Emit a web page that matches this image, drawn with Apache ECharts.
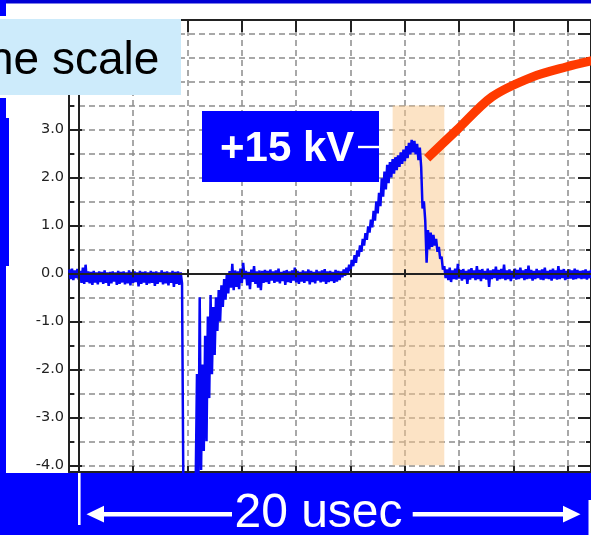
<!DOCTYPE html>
<html>
<head>
<meta charset="utf-8">
<script src="https://cdn.jsdelivr.net/npm/echarts@6/dist/echarts.min.js"></script>
<style>
html,body{margin:0;padding:0;background:#fff;}
#chart{width:591px;height:535px;}
</style>
</head>
<body>
<div id="chart"></div>
<script>
// ---------------- data ----------------
// oscilloscope samples: start time and step in usec, voltage in scope units
const sampleStart = -0.35;
const sampleStep = 0.05;
const voltage = [
  // t -0.35 .. 3.80  (baseline before the pulse)
  0.08,-0.12,0.10,-0.14,0.06,-0.10,0.09,-0.13,0.05,-0.20,
  0.12,-0.22,0.18,-0.18,0.04,-0.21,0.03,-0.24,0.05,-0.19,
  0.02,-0.23,0.04,-0.18,0.03,-0.22,0.06,-0.20,0.02,-0.26,
  0.03,-0.21,0.04,-0.17,0.02,-0.24,0.05,-0.22,0.03,-0.19,
  0.04,-0.23,0.02,-0.21,0.06,-0.25,0.03,-0.20,0.04,-0.18,
  0.02,-0.27,0.05,-0.22,0.03,-0.19,0.04,-0.24,0.02,-0.21,
  0.05,-0.20,0.03,-0.26,0.04,-0.22,0.02,-0.18,0.06,-0.23,
  0.03,-0.21,0.04,-0.25,0.02,-0.20,0.05,-0.28,0.03,-0.22,
  0.04,-0.24,0.02,-0.21,
  // t 3.85 .. 4.25  (off-scale negative)
  -4.6,-4.6,-4.6,-4.6,-4.6,-4.6,-4.6,-4.6,-4.6,
  // t 4.30 .. 6.80  (recovery)
  -4.5,-2.1,-4.5,-0.5,-4.1,-1.9,-3.7,-1.3,-3.5,-0.9,
  -2.6,-0.45,-2.1,-0.7,-1.7,-0.5,-1.2,-0.35,-1.0,-0.25,
  -0.7,-0.12,-0.55,0.0,-0.42,0.05,-0.30,0.20,-0.35,0.06,
  -0.28,0.04,-0.33,0.10,-0.20,0.22,-0.12,0.05,-0.25,0.03,
  -0.33,0.08,-0.18,0.15,-0.22,0.04,-0.30,0.06,-0.35,0.05,
  -0.20,
  // t 6.85 .. 9.65  (baseline)
  0.07,-0.18,0.05,-0.22,0.08,-0.15,0.04,-0.20,0.06,-0.17,
  0.10,-0.21,0.03,-0.16,0.05,-0.24,0.07,-0.18,0.04,-0.20,
  0.06,-0.15,0.12,-0.19,0.05,-0.22,0.03,-0.17,0.06,-0.20,
  0.04,-0.16,0.08,-0.23,0.05,-0.18,0.03,-0.21,0.07,-0.15,
  0.04,-0.19,0.06,-0.17,0.09,-0.22,0.04,-0.18,0.05,-0.16,
  0.03,-0.20,0.07,-0.17,0.05,-0.14,0.04,
  // t 9.70 .. 12.60  (rise to +15 kV)
  -0.08,0.08,-0.05,0.12,0.00,0.18,0.05,0.28,0.15,0.38,
  0.22,0.48,0.35,0.58,0.45,0.72,0.58,0.84,0.70,0.98,
  0.85,1.12,0.96,1.30,1.10,1.50,1.25,1.68,1.40,1.98,
  1.60,2.12,1.75,2.26,1.88,2.32,2.00,2.38,2.08,2.42,
  2.15,2.46,2.22,2.52,2.28,2.58,2.34,2.65,2.40,2.72,
  2.48,2.78,2.52,2.76,2.48,2.70,2.36,2.62,2.22,
  // t 12.65 .. 13.45  (collapse)
  1.35,1.50,1.10,0.22,0.90,0.50,0.85,0.55,0.80,0.58,
  0.72,0.45,0.55,0.30,0.35,0.08,0.15,
  // t 13.50 .. 19.00  (baseline after)
  -0.10,0.08,-0.14,0.12,-0.18,0.06,-0.12,0.10,-0.13,0.20,
  -0.11,0.07,-0.15,0.09,-0.12,0.05,-0.22,0.08,-0.13,0.11,
  -0.10,0.06,-0.14,0.15,-0.12,0.07,-0.16,0.09,-0.11,0.05,
  -0.13,0.10,-0.28,0.06,-0.12,0.08,-0.10,0.14,-0.15,0.07,
  -0.12,0.09,-0.11,0.18,-0.14,0.06,-0.12,0.08,-0.16,0.05,
  -0.11,0.10,-0.13,0.07,-0.12,0.12,-0.10,0.06,-0.14,0.09,
  -0.12,0.16,-0.11,0.07,-0.15,0.05,-0.12,0.09,-0.10,0.06,
  -0.13,0.08,-0.14,0.12,-0.11,0.05,-0.12,0.07,-0.15,0.10,
  -0.11,0.06,-0.13,0.15,-0.12,0.07,-0.10,0.09,-0.14,0.05,
  -0.12,0.08,-0.11,0.06,-0.13,0.10,-0.12,0.07,-0.10,0.05,
  -0.12,0.06,-0.11,0.08,-0.13,0.05,-0.10,0.07,-0.12,0.05,
  -0.11
];

// axis ranges / ticks
const timeMin = -0.36, timeMax = 18.85;
const voltMin = -4.14, voltMax = 5.28;
const timeTicks = [0, 2, 4, 6, 8, 10, 12, 14, 16, 18];
const voltMajor = [-4, -3, -2, -1, 0, 1, 2, 3, 4, 5];
const voltLabels = [-4, -3, -2, -1, 0, 1, 2, 3];
const voltMinor = [-4, -3.5, -3, -2.5, -2, -1.5, -1, -0.5, 0, 0.5, 1, 1.5, 2, 2.5, 3, 3.5, 4, 4.5, 5];

// highlighted window (time range, voltage range)
const bandTime = [11.55, 13.45];
const bandVolt = [3.5, -4.0];

// red annotation curve
const curveTime = [12.82, 13.92, 15.21, 16.68, 17.93, 18.96];
const curveVolt = [2.40, 2.99, 3.68, 4.09, 4.30, 4.44];

// texts
const peakLabel = '+15 kV';
const spanLabel = '20 usec';
const scaleLabel = 'he scale';

// ---------------- chart ----------------
const traceData = voltage.map((v, i) => [+(sampleStart + i * sampleStep).toFixed(2), v]);
const curveData = curveTime.map((t, i) => [t, curveVolt[i]]);

const dark = '#222';
const gridLine = { color: '#8c8c8c', width: 1.5, type: [6, 4] };
const sans = "'Liberation Sans', Arial, sans-serif";

const xBase = { type: 'value', min: timeMin, max: timeMax, axisLabel: { show: false }, splitLine: { show: false } };
const yBase = { type: 'value', min: voltMin, max: voltMax, axisLabel: { show: false }, splitLine: { show: false } };

const chart = echarts.init(document.getElementById('chart'), null, { renderer: 'canvas' });
chart.setOption({
  animation: false,
  backgroundColor: '#fff',
  grid: { left: 69, top: 20, width: 523, height: 452, containLabel: false },
  xAxis: [
    Object.assign({}, xBase, {
      position: 'bottom',
      axisLine: { onZero: false, lineStyle: { color: dark, width: 2 } },
      axisTick: { inside: true, length: 6, customValues: timeTicks, lineStyle: { color: dark, width: 2 } },
      splitLine: { show: true, lineStyle: gridLine }
    }),
    Object.assign({}, xBase, {
      position: 'top',
      axisLine: { onZero: false, lineStyle: { color: dark, width: 2 } },
      axisTick: { inside: true, length: 12, customValues: timeTicks, lineStyle: { color: dark, width: 2 } }
    }),
    Object.assign({}, xBase, {
      position: 'bottom', z: 6,
      axisLine: { onZero: true, onZeroAxisIndex: 0, lineStyle: { color: dark, width: 2 } },
      axisTick: { inside: true, length: 4, customValues: timeTicks, lineStyle: { color: dark, width: 2 } }
    }),
    Object.assign({}, xBase, {
      position: 'top', z: 6,
      axisLine: { onZero: true, onZeroAxisIndex: 0, lineStyle: { color: dark, width: 2 } },
      axisTick: { inside: true, length: 4, customValues: timeTicks, lineStyle: { color: dark, width: 2 } }
    })
  ],
  yAxis: [
    Object.assign({}, yBase, {
      position: 'left',
      axisLine: { onZero: false, lineStyle: { color: dark, width: 2 } },
      axisTick: { inside: true, length: 13, customValues: voltMajor, lineStyle: { color: dark, width: 2 } },
      axisLabel: {
        show: true, customValues: voltLabels, margin: 5,
        formatter: v => Number(v).toFixed(1),
        fontFamily: "'DejaVu Sans', sans-serif", fontSize: 14.5, color: dark
      }
    }),
    Object.assign({}, yBase, {
      position: 'left',
      axisLine: { show: false, onZero: false },
      axisTick: { inside: true, length: 5, customValues: voltMinor, lineStyle: { color: dark, width: 2 } },
      splitLine: { show: true, lineStyle: gridLine }
    }),
    Object.assign({}, yBase, {
      position: 'right',
      axisLine: { onZero: false, lineStyle: { color: dark, width: 2 } },
      axisTick: { inside: true, length: 13, customValues: voltMajor, lineStyle: { color: dark, width: 2 } }
    }),
    Object.assign({}, yBase, {
      position: 'right',
      axisLine: { show: false, onZero: false },
      axisTick: { inside: true, length: 5, customValues: voltMinor, lineStyle: { color: dark, width: 2 } }
    }),
    Object.assign({}, yBase, {
      position: 'left', z: 6,
      axisLine: { onZero: true, onZeroAxisIndex: 0, lineStyle: { color: dark, width: 2 } },
      axisTick: { show: false }
    })
  ],
  series: [
    {
      type: 'line', xAxisIndex: 0, yAxisIndex: 0, z: 1, data: [], silent: true,
      markArea: {
        silent: true, z: 1,
        itemStyle: { color: 'rgba(249,199,139,0.5)' },
        data: [[{ coord: [bandTime[0], bandVolt[0]] }, { coord: [bandTime[1], bandVolt[1]] }]]
      }
    },
    {
      type: 'line', xAxisIndex: 0, yAxisIndex: 0, z: 2,
      data: traceData, showSymbol: false, clip: true,
      lineStyle: { color: '#0505f5', width: 2.5 },
      silent: true
    },
    {
      type: 'line', xAxisIndex: 0, yAxisIndex: 0, z: 4,
      data: curveData, smooth: 0.3, showSymbol: false, clip: true, silent: true,
      lineStyle: { color: '#ff3a00', width: 9, cap: 'butt' }
    }
  ],
  graphic: [
    // slide decorations
    { type: 'rect', z: 100, shape: { x: 0, y: 0, width: 591, height: 3.5 }, style: { fill: '#0000d4' } },
    { type: 'rect', z: 100, shape: { x: 0, y: 0, width: 6, height: 16 }, style: { fill: '#0000ff' } },
    { type: 'rect', z: 100, shape: { x: 0, y: 98, width: 6, height: 376 }, style: { fill: '#0000ff' } },
    { type: 'rect', z: 100, shape: { x: 0, y: 118, width: 9, height: 148 }, style: { fill: '#0000ff' } },
    { type: 'rect', z: 100, shape: { x: 0, y: 19, width: 181, height: 76 }, style: { fill: '#cdebfb' } },
    { type: 'text', z: 101, style: { text: scaleLabel, x: -12, y: 61, font: "46px " + sans, fill: '#000', textVerticalAlign: 'middle' } },
    // +15 kV callout
    { type: 'rect', z: 100, shape: { x: 202, y: 111, width: 177, height: 71 }, style: { fill: '#0000ff' } },
    { type: 'text', z: 101, style: { text: peakLabel, x: 220, y: 149, font: "bold 42px " + sans, fill: '#fff', textVerticalAlign: 'middle' } },
    { type: 'rect', z: 101, shape: { x: 358, y: 145.8, width: 21, height: 2.4 }, style: { fill: '#fff' } },
    // bottom band with span arrow
    { type: 'rect', z: 100, shape: { x: 0, y: 473, width: 591, height: 62 }, style: { fill: '#0000ff' } },
    { type: 'rect', z: 101, shape: { x: 78, y: 473, width: 2.6, height: 52 }, style: { fill: '#fff' } },
    { type: 'rect', z: 101, shape: { x: 588.5, y: 500, width: 2.6, height: 35 }, style: { fill: '#fff' } },
    { type: 'rect', z: 101, shape: { x: 100, y: 512, width: 132, height: 4.5 }, style: { fill: '#fff' } },
    { type: 'polygon', z: 101, shape: { points: [[86.5, 514.2], [104, 505.8], [104, 522.6]] }, style: { fill: '#fff' } },
    { type: 'rect', z: 101, shape: { x: 412.7, y: 512, width: 152, height: 4.5 }, style: { fill: '#fff' } },
    { type: 'polygon', z: 101, shape: { points: [[580.5, 514.2], [563, 505.8], [563, 522.6]] }, style: { fill: '#fff' } },
    { type: 'text', z: 101, style: { text: spanLabel, x: 318.5, y: 514, font: "48px " + sans, fill: '#fff', textAlign: 'center', textVerticalAlign: 'middle' } }
  ]
});
</script>
</body>
</html>
